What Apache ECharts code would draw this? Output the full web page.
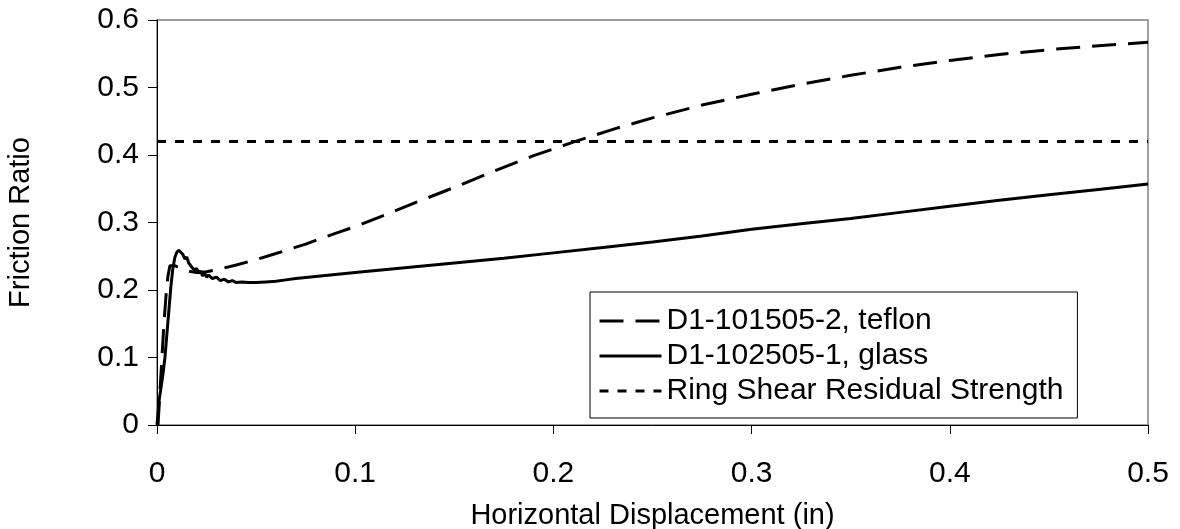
<!DOCTYPE html>
<html>
<head>
<meta charset="utf-8">
<script src="https://cdn.jsdelivr.net/npm/echarts@6/dist/echarts.min.js"></script>
<style>
html,body{margin:0;padding:0;background:#fff;}
#chart{width:1180px;height:529px;}
</style>
</head>
<body>
<div id="chart"></div>
<script>
// x = horizontal displacement (in), y = friction ratio
const teflonX = [0.0005,0.0015,0.0025,0.0035,0.0045,0.0055,0.0065,0.009,0.012,0.016,0.02,0.025,0.03,0.04,0.05,0.06,0.075,0.09,0.1,0.115,0.13,0.15,0.17,0.19,0.21,0.23,0.25,0.275,0.3,0.325,0.35,0.375,0.4,0.425,0.45,0.475,0.5];
const teflonY = [0.0,0.05,0.10,0.15,0.19,0.22,0.236,0.236,0.232,0.228,0.226,0.227,0.230,0.237,0.245,0.254,0.268,0.284,0.294,0.311,0.329,0.352,0.376,0.399,0.419,0.438,0.455,0.474,0.490,0.505,0.518,0.530,0.540,0.549,0.556,0.562,0.567];

const glassX = [0.0,0.001,0.002,0.003,0.004,0.005,0.006,0.007,0.008,0.009,0.010,0.011,0.012,0.013,0.014,0.015,0.016,0.017,0.018,0.019,0.020,0.021,0.022,0.023,0.024,0.025,0.026,0.028,0.030,0.032,0.034,0.036,0.038,0.040,0.043,0.046,0.050,0.055,0.060,0.065,0.070,0.080,0.090,0.100,0.125,0.150,0.175,0.200,0.225,0.250,0.275,0.300,0.325,0.350,0.375,0.400,0.425,0.450,0.475,0.500];
const glassY = [0.0,0.035,0.055,0.075,0.100,0.135,0.170,0.205,0.232,0.248,0.256,0.259,0.258,0.253,0.246,0.249,0.240,0.236,0.238,0.229,0.232,0.225,0.228,0.221,0.225,0.219,0.222,0.217,0.219,0.214,0.216,0.212,0.214,0.211,0.212,0.211,0.211,0.212,0.213,0.215,0.217,0.220,0.223,0.226,0.233,0.240,0.247,0.255,0.263,0.271,0.280,0.290,0.298,0.306,0.315,0.324,0.333,0.341,0.349,0.357];

const ringX = [0.0,0.5];
const ringY = [0.42,0.42];

const xTicks = [0,0.1,0.2,0.3,0.4,0.5];
const yTicks = [0,0.1,0.2,0.3,0.4,0.5,0.6];

const seriesNames = ['D1-101505-2, teflon','D1-102505-1, glass','Ring Shear Residual Strength'];

function pairs(xs, ys){ return xs.map((x,i)=>[x,ys[i]]); }

const FONT = 'Liberation Sans, Arial, sans-serif';
const FS = 30;
const chart = echarts.init(document.getElementById('chart'), null, {renderer:'canvas'});
chart.setOption({
  animation:false,
  backgroundColor:'#ffffff',
  grid:{left:157,right:32,top:20,bottom:104,containLabel:false,outerBoundsMode:'none',
    show:true,borderColor:'#808080',borderWidth:1.5},
  xAxis:{type:'value',min:xTicks[0],max:xTicks[xTicks.length-1],interval:0.1,
    name:'Horizontal Displacement (in)',nameLocation:'middle',nameGap:76,
    nameTextStyle:{fontFamily:FONT,fontSize:FS-1,color:'#000'},
    axisLine:{show:true,lineStyle:{color:'#000',width:1}},
    axisTick:{show:true,length:9,lineStyle:{color:'#000'}},
    axisLabel:{fontFamily:FONT,fontSize:FS,color:'#000',margin:34,formatter:v=>String(+v.toFixed(1))},
    splitLine:{show:false}},
  yAxis:{type:'value',min:yTicks[0],max:yTicks[yTicks.length-1],interval:0.1,
    name:'Friction Ratio',nameLocation:'middle',nameGap:122,
    nameTextStyle:{fontFamily:FONT,fontSize:FS-1,color:'#000'},
    axisLine:{show:true,lineStyle:{color:'#000',width:1}},
    axisTick:{show:true,length:9,lineStyle:{color:'#000'}},
    axisLabel:{fontFamily:FONT,fontSize:FS,color:'#000',margin:18,formatter:v=>String(+v.toFixed(1))},
    splitLine:{show:false}},
  legend:{orient:'vertical',left:590,top:292,itemGap:5,itemWidth:62,itemHeight:14,
    padding:[14,14,12,8],
    borderColor:'#000',borderWidth:1,backgroundColor:'#fff',
    itemStyle:{opacity:0},
    lineStyle:{width:3},
    textStyle:{fontFamily:FONT,fontSize:FS,color:'#000'},
    data:seriesNames},
  series:[
    {name:seriesNames[0],type:'line',data:pairs(teflonX,teflonY),showSymbol:false,symbol:'none',
      lineStyle:{color:'#000',width:3,type:[24,12]},itemStyle:{color:'#000'}},
    {name:seriesNames[1],type:'line',data:pairs(glassX,glassY),showSymbol:false,symbol:'none',
      lineStyle:{color:'#000',width:3,type:'solid'},itemStyle:{color:'#000'}},
    {name:seriesNames[2],type:'line',data:pairs(ringX,ringY),showSymbol:false,symbol:'none',
      lineStyle:{color:'#000',width:3,type:[9,9]},itemStyle:{color:'#000'}}
  ]
});
</script>
</body>
</html>
